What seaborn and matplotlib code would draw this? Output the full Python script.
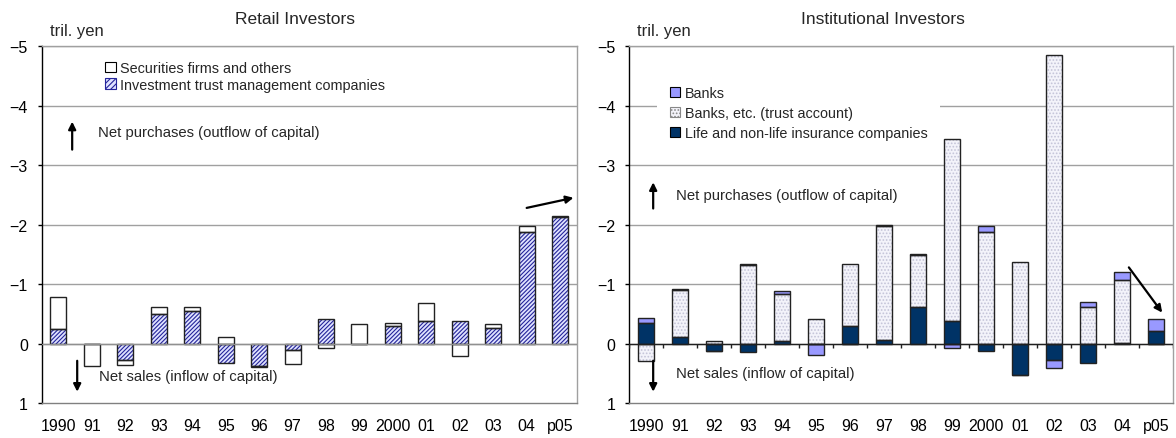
import numpy as np
import pandas as pd
import matplotlib
matplotlib.use("Agg")
import matplotlib.pyplot as plt
import seaborn as sns
from matplotlib.patches import Patch

sns.set_theme(style="white")
plt.rcParams['font.family'] = ['Liberation Sans', 'DejaVu Sans']
plt.rcParams['hatch.linewidth'] = 0.8

years = ['1990', '91', '92', '93', '94', '95', '96', '97', '98', '99',
         '2000', '01', '02', '03', '04', 'p05']

# retail investors (tril. yen, negative = net purchases)
invest_trust = [-0.25, 0.01, 0.27, -0.49, -0.54, 0.33, 0.38, 0.11,
                -0.42, 0.0, -0.29, -0.38, -0.38, -0.26, -1.87, -2.13]
securities = [-0.53, 0.36, 0.09, -0.13, -0.08, -0.11, 0.01, 0.24,
              0.07, -0.33, -0.05, -0.30, 0.21, -0.06, -0.10, -0.02]

# institutional investors
insurance = [-0.35, -0.11, 0.12, 0.14, -0.04, 0.01, -0.29, -0.06,
             -0.61, -0.38, 0.12, 0.53, 0.28, 0.32, -0.01, -0.21]
trust_acct = [0.30, -0.79, -0.04, -1.32, -0.80, -0.41, -1.04, -1.91,
              -0.87, -3.05, -1.88, -1.37, -4.85, -0.62, -1.06, 0.0]
banks = [-0.08, -0.01, 0.0, -0.02, -0.04, 0.18, 0.0, -0.03,
         -0.03, 0.08, -0.10, 0.0, 0.13, -0.07, -0.14, -0.20]

W = 0.48
x = np.arange(len(years))
HATCH_BLUE = '#24249a'


def stack_layers(ax, layers):
    # layers: list of (values, facecolor, hatch, hatchcolor)
    pos = np.zeros(len(years))
    neg = np.zeros(len(years))
    for i, (vals, face, hatch, hcol) in enumerate(layers):
        vals = np.asarray(vals, dtype=float)
        bottom = np.where(vals < 0, neg, pos)
        if i == 0:
            df = pd.DataFrame({'year': years, 'v': vals})
            sns.barplot(data=df, x='year', y='v', order=years, width=W,
                        color=face, saturation=1, hatch=hatch,
                        edgecolor=hcol, linewidth=0, ax=ax)
        else:
            ax.bar(x, vals, W, bottom=bottom, color=face, hatch=hatch,
                   edgecolor=hcol, linewidth=0, zorder=2)
        ax.bar(x, vals, W, bottom=bottom, fill=False, edgecolor='#222222',
               linewidth=1.0, zorder=3)
        pos = pos + np.where(vals > 0, vals, 0)
        neg = neg + np.where(vals < 0, vals, 0)


def style_axes(ax, title, title_x, zero_col):
    ax.set_xlim(-0.5, 15.5)
    ax.set_ylim(1, -5)
    ax.set_yticks(range(-5, 2))
    ax.set_xlabel('')
    ax.set_ylabel('')
    ax.set_xticks(x)
    ax.set_xticklabels(years)
    ax.tick_params(axis='x', length=0, pad=11, labelsize=11.5, colors='black')
    ax.tick_params(axis='y', length=3, width=1, pad=7, labelsize=11.5,
                   left=True, direction='out', colors='black')
    for yv in range(-5, 1):
        ax.axhline(yv, color='#a0a0a0', lw=1.0, zorder=0)
    ax.axhline(0, color=zero_col, lw=1.0, zorder=4)
    ax.spines['left'].set_color('black')
    ax.spines['bottom'].set_color('#808080')
    ax.spines['top'].set_color('#a0a0a0')
    ax.spines['right'].set_color('#a0a0a0')
    for s in ax.spines.values():
        s.set_linewidth(1.0)
    ax.text(title_x, 1.076, title, transform=ax.transAxes,
            ha='center', va='center', fontsize=12.5)
    ax.text(0.0155, 1.045, 'tril. yen', transform=ax.transAxes,
            ha='left', va='center', fontsize=12)


def arrow(ax, x0, y0, x1, y1):
    ax.annotate('', xy=(x1, y1), xytext=(x0, y0),
                arrowprops=dict(arrowstyle='-|>', color='black', lw=1.6,
                                mutation_scale=11, shrinkA=0, shrinkB=0),
                zorder=6)


fig = plt.figure(figsize=(11.76, 4.39), dpi=100)
axL = fig.add_axes([0.0355, 0.0797, 0.455, 0.813])
axR = fig.add_axes([0.5349, 0.0797, 0.4626, 0.813])

# left panel
stack_layers(axL, [(invest_trust, '#dfe2ff', '////////', HATCH_BLUE),
                   (securities, 'white', None, 'white')])
style_axes(axL, 'Retail Investors', 0.4725, '#909090')
legL = axL.legend(handles=[Patch(facecolor='white', edgecolor='black', lw=0.8),
                           Patch(facecolor='#dfe2ff', edgecolor=HATCH_BLUE,
                                 hatch='//////', lw=0.8)],
                  labels=['Securities firms and others',
                          'Investment trust management companies'],
                  loc='upper left', bbox_to_anchor=(0.092, 0.999),
                  fontsize=10.4, frameon=False, borderpad=1.0,
                  borderaxespad=0, handlelength=0.7, handleheight=0.7,
                  handletextpad=0.3, labelspacing=0.18)
legL.set_zorder(5)
axL.text(1.19, -3.56, 'Net purchases (outflow of capital)', fontsize=10.7,
         ha='left', va='center')
arrow(axL, 0.41, -3.26, 0.41, -3.73)
axL.text(1.22, 0.54, 'Net sales (inflow of capital)', fontsize=10.7,
         ha='left', va='center', zorder=6)
arrow(axL, 0.56, 0.29, 0.56, 0.81)
arrow(axL, 14.0, -2.28, 15.4, -2.45)

# right panel
stack_layers(axR, [(insurance, '#003366', None, '#003366'),
                   (trust_acct, '#f3f3fa', '.....', '#c4c4d8'),
                   (banks, '#9999ff', None, '#9999ff')])
style_axes(axR, 'Institutional Investors', 0.467, '#202020')
axR.vlines(np.arange(-0.5, 16), 0, 0.08, color='#202020', lw=1, zorder=4)
legR = axR.legend(handles=[Patch(facecolor='#9999ff', edgecolor='black', lw=0.8),
                           Patch(facecolor='#f3f3fa', edgecolor='#888888',
                                 hatch='.....', lw=0.8),
                           Patch(facecolor='#003366', edgecolor='black', lw=0.8)],
                  labels=['Banks', 'Banks, etc. (trust account)',
                          'Life and non-life insurance companies'],
                  loc='upper left', bbox_to_anchor=(0.0515, 0.924),
                  fontsize=10.4, frameon=True, facecolor='white',
                  edgecolor='none', framealpha=1, borderpad=0.9,
                  borderaxespad=0, handlelength=0.7, handleheight=0.7,
                  handletextpad=0.3, labelspacing=0.4)
legR.set_zorder(5)
axR.text(0.88, -2.50, 'Net purchases (outflow of capital)', fontsize=10.7,
         ha='left', va='center')
arrow(axR, 0.21, -2.27, 0.21, -2.71)
axR.text(0.88, 0.49, 'Net sales (inflow of capital)', fontsize=10.7,
         ha='left', va='center', zorder=6)
arrow(axR, 0.21, 0.29, 0.21, 0.81)
arrow(axR, 14.2, -1.28, 15.18, -0.52)

fig.savefig('out.png', dpi=100)
